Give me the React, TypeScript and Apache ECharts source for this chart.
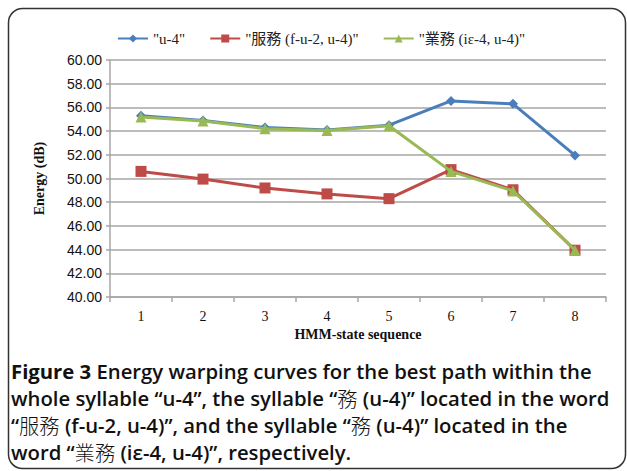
import React, { useEffect, useRef } from "react";
import * as echarts from "echarts";

const categories = ["1", "2", "3", "4", "5", "6", "7", "8"];
const seriesNames = ['"u-4"', '"服務 (f-u-2, u-4)"', '"業務 (iε-4, u-4)"'];
const u4 = [55.3, 54.9, 54.3, 54.1, 54.5, 56.55, 56.3, 51.95];
const fuwu = [50.6, 49.95, 49.2, 48.7, 48.3, 50.75, 49.05, 43.95];
const yewu = [55.2, 54.85, 54.2, 54.05, 54.45, 50.6, 48.95, 43.95];
const captionLines = [
  "{f|Figure 3} Energy warping curves for the best path within the",
  "whole syllable “u-4”, the syllable “{c|務} (u-4)” located in the word",
  "“{c|服務} (f-u-2, u-4)”, and the syllable “{c|務} (u-4)” located in the",
  "word “{c|業務} (iε-4, u-4)”, respectively.",
];

export default function App() {
  const ref = useRef<HTMLDivElement>(null);
  useEffect(() => {
    if (!ref.current) return;
    const chart = echarts.init(ref.current, undefined, { renderer: "svg" });
    const serif = "'Liberation Serif', 'Noto Sans CJK TC', serif";
    const capFont = "'Open Sans', 'Noto Sans CJK TC', sans-serif";
    chart.setOption({
      animation: false,
      backgroundColor: "#ffffff",
      legend: {
        left: 112,
        top: 26,
        itemWidth: 30,
        itemHeight: 10,
        itemGap: 24,
        textStyle: { fontFamily: serif, fontSize: 15, color: "#222" },
        data: seriesNames,
      },
      grid: { left: 110, right: 21, top: 60, bottom: 174 },
      xAxis: {
        type: "category",
        data: categories,
        boundaryGap: true,
        name: "HMM-state sequence",
        nameLocation: "middle",
        nameGap: 30,
        nameTextStyle: { fontFamily: serif, fontWeight: "bold", fontSize: 14, color: "#111" },
        axisLine: { lineStyle: { color: "#a6a6a6", width: 1.5 } },
        axisTick: { show: true, alignWithLabel: false, length: 5, lineStyle: { color: "#a6a6a6", width: 1.5 } },
        axisLabel: { fontFamily: serif, fontSize: 14, color: "#111", margin: 12 },
        splitLine: { show: false },
      },
      yAxis: {
        type: "value",
        min: 40,
        max: 60,
        interval: 2,
        name: "Energy (dB)",
        nameLocation: "middle",
        nameGap: 64,
        nameRotate: 90,
        nameTextStyle: { fontFamily: serif, fontWeight: "bold", fontSize: 14, color: "#111" },
        axisLine: { show: true, lineStyle: { color: "#a6a6a6", width: 1.5 } },
        axisTick: { show: true, length: 4, lineStyle: { color: "#a6a6a6", width: 1.5 } },
        axisLabel: {
          fontFamily: "'Liberation Sans', sans-serif",
          fontSize: 14,
          color: "#111",
          margin: 8,
          formatter: (v: number) => v.toFixed(2),
        },
        splitLine: { lineStyle: { color: "#a6a6a6", width: 1.5 } },
      },
      series: [
        {
          name: seriesNames[0],
          type: "line",
          data: u4,
          symbol: "diamond",
          symbolSize: 10,
          lineStyle: { color: "#4a7ebb", width: 3 },
          itemStyle: { color: "#4a7ebb" },
          z: 2,
        },
        {
          name: seriesNames[1],
          type: "line",
          data: fuwu,
          symbol: "rect",
          symbolSize: 11,
          lineStyle: { color: "#be4b48", width: 3 },
          itemStyle: { color: "#be4b48" },
          z: 3,
        },
        {
          name: seriesNames[2],
          type: "line",
          data: yewu,
          symbol: "triangle",
          symbolSize: 11,
          lineStyle: { color: "#98b954", width: 3 },
          itemStyle: { color: "#98b954" },
          z: 4,
        },
      ],
      graphic: [
        {
          type: "rect",
          shape: { x: 8.5, y: 8.5, width: 617, height: 460, r: 14 },
          style: { fill: "none", stroke: "#333", lineWidth: 1.5 },
          silent: true,
          z: 0,
        },
        ...captionLines.map((t, i) => ({
          type: "text",
          left: 11,
          top: 361 + i * 27,
          style: {
            text: t,
            fontFamily: capFont,
            fontSize: 20.3,
            fontWeight: 600,
            fill: "#111",
            rich: {
              f: { fontFamily: capFont, fontSize: 20.3, fontWeight: "bold", fill: "#111" },
              c: { fontFamily: "'Noto Sans CJK TC', sans-serif", fontSize: 20.3, fontWeight: 300, fill: "#111" },
            },
          },
        })),
      ],
    });
    return () => chart.dispose();
  }, []);
  return (
    <div
      ref={ref}
      style={{ position: "fixed", left: 0, top: 0, width: 627, height: 471 }}
    />
  );
}
